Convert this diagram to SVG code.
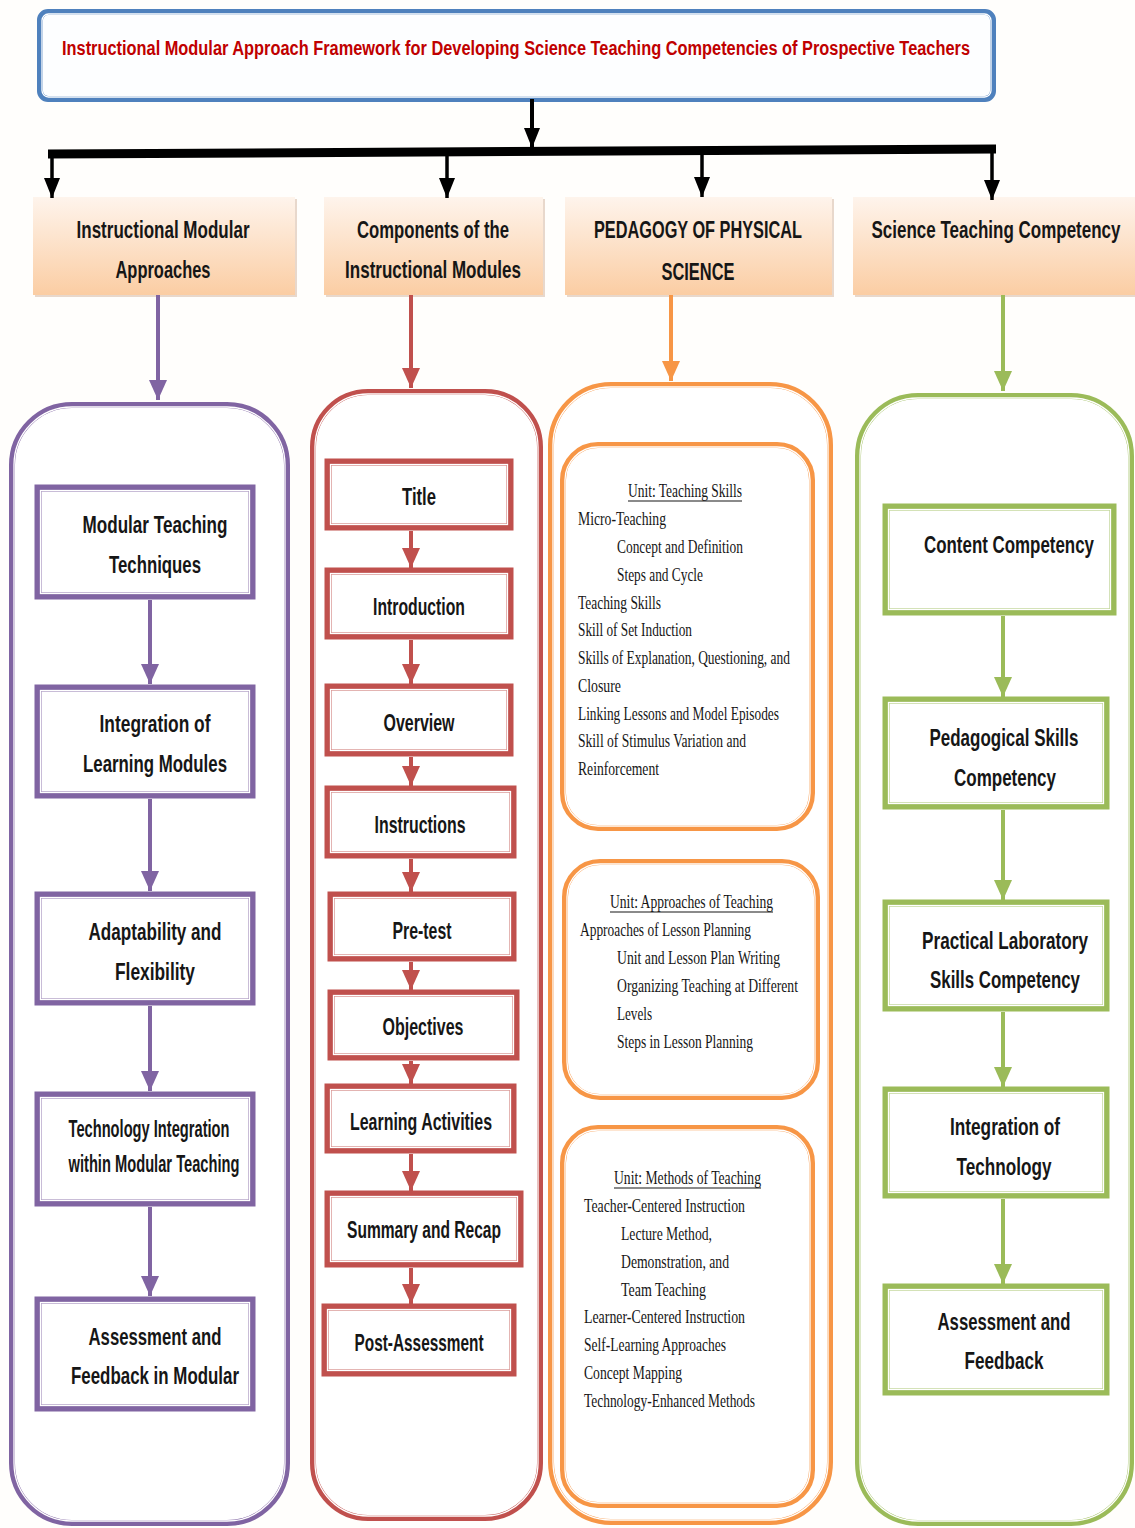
<svg xmlns="http://www.w3.org/2000/svg" width="1135" height="1528" viewBox="0 0 1135 1528">
<style>
.sb{font-family:"Liberation Sans",Arial,sans-serif;font-weight:bold;font-size:23px;fill:#161616;text-anchor:middle}
.sr{font-family:"Liberation Serif","Times New Roman",serif;font-size:18px;fill:#161616}
.in{fill:none;stroke:#fff;stroke-width:1.3}
.pb{fill:#fff;stroke:#8064a2;stroke-width:7}
.rb{fill:#fff;stroke:#c0504d;stroke-width:7}
.gb{fill:#fff;stroke:#9bbb59;stroke-width:7}
.ob{fill:#fff;stroke:#f79646;stroke-width:6}
.pc{fill:#fff;stroke:#8064a2;stroke-width:6}
.rc{fill:#fff;stroke:#c0504d;stroke-width:6}
.oc{fill:#fff;stroke:#f79646;stroke-width:6}
.gc{fill:#fff;stroke:#9bbb59;stroke-width:6}
.hd{fill:url(#peach)}
.ul{stroke:#161616;stroke-width:1.2}
</style>
<defs>
<linearGradient id="peach" x1="0" y1="0" x2="0" y2="1">
<stop offset="0" stop-color="#fef4ec"/>
<stop offset="1" stop-color="#fbcda3"/>
</linearGradient>
<marker id="mk" markerUnits="userSpaceOnUse" markerWidth="22" markerHeight="16" refX="20" refY="8" orient="auto"><path d="M0,0 L20,8 L0,16 z" fill="#000"/></marker>
<marker id="mp" markerUnits="userSpaceOnUse" markerWidth="22" markerHeight="18" refX="20" refY="9" orient="auto"><path d="M0,0 L20,9 L0,18 z" fill="#8064a2"/></marker>
<marker id="mr" markerUnits="userSpaceOnUse" markerWidth="22" markerHeight="18" refX="20" refY="9" orient="auto"><path d="M0,0 L20,9 L0,18 z" fill="#c0504d"/></marker>
<marker id="mo" markerUnits="userSpaceOnUse" markerWidth="22" markerHeight="18" refX="20" refY="9" orient="auto"><path d="M0,0 L20,9 L0,18 z" fill="#f79646"/></marker>
<marker id="mg" markerUnits="userSpaceOnUse" markerWidth="22" markerHeight="18" refX="20" refY="9" orient="auto"><path d="M0,0 L20,9 L0,18 z" fill="#9bbb59"/></marker>
</defs>
<rect x="0" y="0" width="1135" height="1528" fill="#fffefc"/>

<g id="title">
<rect x="40" y="12" width="953" height="87" rx="8" fill="#fdfeff" stroke="#4f81bd" stroke-width="6"/>
<rect x="42" y="14" width="949" height="83" rx="6.5" class="in"/>
<text transform="translate(516,55) scale(0.8,1)" x="0" y="0" font-family="Liberation Sans, Arial, sans-serif" font-weight="bold" font-size="21" fill="#c00000" text-anchor="middle" textLength="1135" lengthAdjust="spacingAndGlyphs">Instructional Modular Approach Framework for Developing Science Teaching Competencies of Prospective Teachers</text>
</g>

<g id="headers">
<g id="h1"><rect x="35" y="199" width="262" height="98" fill="#e8d8cc"/><rect class="hd" x="33" y="197" width="262" height="98"/>
<text class="sb" transform="translate(163,238) scale(0.78,1)" textLength="221.8" lengthAdjust="spacingAndGlyphs">Instructional Modular</text>
<text class="sb" transform="translate(163,278) scale(0.78,1)" textLength="121.8" lengthAdjust="spacingAndGlyphs">Approaches</text></g>
<g id="h2"><rect x="326" y="199" width="219" height="98" fill="#e8d8cc"/><rect class="hd" x="324" y="197" width="219" height="98"/>
<text class="sb" transform="translate(433,238) scale(0.78,1)" textLength="194.9" lengthAdjust="spacingAndGlyphs">Components of the</text>
<text class="sb" transform="translate(433,278) scale(0.78,1)" textLength="225.6" lengthAdjust="spacingAndGlyphs">Instructional Modules</text></g>
<g id="h3"><rect x="567" y="199" width="267" height="98" fill="#e8d8cc"/><rect class="hd" x="565" y="197" width="267" height="98"/>
<text class="sb" transform="translate(698,238) scale(0.78,1)" textLength="266.7" lengthAdjust="spacingAndGlyphs">PEDAGOGY OF PHYSICAL</text>
<text class="sb" transform="translate(698,280) scale(0.78,1)" textLength="93.6" lengthAdjust="spacingAndGlyphs">SCIENCE</text></g>
<g id="h4"><rect x="855" y="199" width="282" height="98" fill="#e8d8cc"/><rect class="hd" x="853" y="197" width="282" height="98"/>
<text class="sb" transform="translate(996,238) scale(0.78,1)" textLength="319.2" lengthAdjust="spacingAndGlyphs">Science Teaching Competency</text></g>
</g>

<g id="containers">
<g id="cp"><rect class="pc" x="12" y="405" width="275" height="1118" rx="60"/><rect class="in" x="14" y="407" width="271" height="1114" rx="58"/></g>
<g id="cr"><rect class="rc" x="313" y="392" width="227" height="1126" rx="55"/><rect class="in" x="315" y="394" width="223" height="1122" rx="53"/></g>
<g id="co"><rect class="oc" x="551" y="385" width="279" height="1137" rx="60"/><rect class="in" x="553" y="387" width="275" height="1133" rx="58"/></g>
<g id="cg"><rect class="gc" x="858" y="396" width="273" height="1127" rx="60"/><rect class="in" x="860" y="398" width="269" height="1123" rx="58"/></g>
</g>

<g id="connectors" fill="none">
<line x1="532" y1="99" x2="532" y2="148" stroke="#000" stroke-width="4" marker-end="url(#mk)"/>
<line x1="48" y1="154" x2="996" y2="149" stroke="#000" stroke-width="9"/>
<line x1="52" y1="154" x2="52" y2="198" stroke="#000" stroke-width="3.5" marker-end="url(#mk)"/>
<line x1="447" y1="152" x2="447" y2="198" stroke="#000" stroke-width="3.5" marker-end="url(#mk)"/>
<line x1="702" y1="151" x2="702" y2="197" stroke="#000" stroke-width="3.5" marker-end="url(#mk)"/>
<line x1="992" y1="149" x2="992" y2="200" stroke="#000" stroke-width="3.5" marker-end="url(#mk)"/>
<line x1="158" y1="295" x2="158" y2="400" stroke="#8064a2" stroke-width="4" marker-end="url(#mp)"/>
<line x1="411" y1="295" x2="411" y2="388" stroke="#c0504d" stroke-width="4" marker-end="url(#mr)"/>
<line x1="671" y1="295" x2="671" y2="381" stroke="#f79646" stroke-width="4" marker-end="url(#mo)"/>
<line x1="1003" y1="295" x2="1003" y2="391" stroke="#9bbb59" stroke-width="4" marker-end="url(#mg)"/>
<g stroke="#8064a2" stroke-width="4">
<line x1="150" y1="600" x2="150" y2="684" marker-end="url(#mp)"/>
<line x1="150" y1="799" x2="150" y2="891" marker-end="url(#mp)"/>
<line x1="150" y1="1006" x2="150" y2="1091" marker-end="url(#mp)"/>
<line x1="150" y1="1207" x2="150" y2="1296" marker-end="url(#mp)"/>
</g>
<g stroke="#c0504d" stroke-width="4">
<line x1="411" y1="531" x2="411" y2="568" marker-end="url(#mr)"/>
<line x1="411" y1="640" x2="411" y2="684" marker-end="url(#mr)"/>
<line x1="411" y1="757" x2="411" y2="786" marker-end="url(#mr)"/>
<line x1="411" y1="859" x2="411" y2="892" marker-end="url(#mr)"/>
<line x1="411" y1="962" x2="411" y2="990" marker-end="url(#mr)"/>
<line x1="411" y1="1061" x2="411" y2="1084" marker-end="url(#mr)"/>
<line x1="411" y1="1154" x2="411" y2="1191" marker-end="url(#mr)"/>
<line x1="411" y1="1268" x2="411" y2="1304" marker-end="url(#mr)"/>
</g>
<g stroke="#9bbb59" stroke-width="4">
<line x1="1003" y1="616" x2="1003" y2="697" marker-end="url(#mg)"/>
<line x1="1003" y1="810" x2="1003" y2="900" marker-end="url(#mg)"/>
<line x1="1003" y1="1012" x2="1003" y2="1087" marker-end="url(#mg)"/>
<line x1="1003" y1="1199" x2="1003" y2="1284" marker-end="url(#mg)"/>
</g>
</g>

<g id="p1"><rect class="pb" x="38" y="488" width="214" height="108"/><rect class="in" x="40.5" y="490.5" width="209" height="103"/>
<text class="sb" transform="translate(155,533) scale(0.78,1)" textLength="185.9" lengthAdjust="spacingAndGlyphs">Modular Teaching</text>
<text class="sb" transform="translate(155,573) scale(0.78,1)" textLength="117.9" lengthAdjust="spacingAndGlyphs">Techniques</text></g>
<g id="p2"><rect class="pb" x="38" y="688" width="214" height="107"/><rect class="in" x="40.5" y="690.5" width="209" height="102"/>
<text class="sb" transform="translate(155,732) scale(0.78,1)" textLength="142.3" lengthAdjust="spacingAndGlyphs">Integration of</text>
<text class="sb" transform="translate(155,772) scale(0.78,1)" textLength="184.6" lengthAdjust="spacingAndGlyphs">Learning Modules</text></g>
<g id="p3"><rect class="pb" x="38" y="895" width="214" height="107"/><rect class="in" x="40.5" y="897.5" width="209" height="102"/>
<text class="sb" transform="translate(155,940) scale(0.78,1)" textLength="170.5" lengthAdjust="spacingAndGlyphs">Adaptability and</text>
<text class="sb" transform="translate(155,980) scale(0.78,1)" textLength="102.6" lengthAdjust="spacingAndGlyphs">Flexibility</text></g>
<g id="p4"><rect class="pb" x="38" y="1095" width="214" height="108"/><rect class="in" x="40.5" y="1097.5" width="209" height="103"/>
<text class="sb" transform="translate(149,1137) scale(0.78,1)" font-size="20" textLength="206.4" lengthAdjust="spacingAndGlyphs">Technology Integration</text>
<text class="sb" transform="translate(154,1172) scale(0.78,1)" font-size="20" textLength="219.2" lengthAdjust="spacingAndGlyphs">within Modular Teaching</text></g>
<g id="p5"><rect class="pb" x="38" y="1300" width="214" height="108"/><rect class="in" x="40.5" y="1302.5" width="209" height="103"/>
<text class="sb" transform="translate(155,1345) scale(0.78,1)" textLength="170.5" lengthAdjust="spacingAndGlyphs">Assessment and</text>
<text class="sb" transform="translate(155,1384) scale(0.78,1)" textLength="215.4" lengthAdjust="spacingAndGlyphs">Feedback in Modular</text></g>

<g id="r1"><rect class="rb" x="328" y="462" width="182" height="65"/><rect class="in" x="330.5" y="464.5" width="177" height="60"/>
<text class="sb" transform="translate(419,505) scale(0.78,1)" textLength="43.6" lengthAdjust="spacingAndGlyphs">Title</text></g>
<g id="r2"><rect class="rb" x="328" y="571" width="182" height="65"/><rect class="in" x="330.5" y="573.5" width="177" height="60"/>
<text class="sb" transform="translate(419,615) scale(0.78,1)" textLength="117.9" lengthAdjust="spacingAndGlyphs">Introduction</text></g>
<g id="r3"><rect class="rb" x="328" y="687" width="182" height="66"/><rect class="in" x="330.5" y="689.5" width="177" height="61"/>
<text class="sb" transform="translate(419,731) scale(0.78,1)" textLength="91" lengthAdjust="spacingAndGlyphs">Overview</text></g>
<g id="r4"><rect class="rb" x="328" y="789" width="185" height="66"/><rect class="in" x="330.5" y="791.5" width="180" height="61"/>
<text class="sb" transform="translate(420,833) scale(0.78,1)" textLength="116.7" lengthAdjust="spacingAndGlyphs">Instructions</text></g>
<g id="r5"><rect class="rb" x="331" y="895" width="182" height="63"/><rect class="in" x="333.5" y="897.5" width="177" height="58"/>
<text class="sb" transform="translate(422,939) scale(0.78,1)" textLength="75.6" lengthAdjust="spacingAndGlyphs">Pre-test</text></g>
<g id="r6"><rect class="rb" x="331" y="993" width="185" height="64"/><rect class="in" x="333.5" y="995.5" width="180" height="59"/>
<text class="sb" transform="translate(423,1035) scale(0.78,1)" textLength="103.8" lengthAdjust="spacingAndGlyphs">Objectives</text></g>
<g id="r7"><rect class="rb" x="328" y="1087" width="185" height="63"/><rect class="in" x="330.5" y="1089.5" width="180" height="58"/>
<text class="sb" transform="translate(421,1130) scale(0.78,1)" textLength="182.1" lengthAdjust="spacingAndGlyphs">Learning Activities</text></g>
<g id="r8"><rect class="rb" x="328" y="1194" width="192" height="70"/><rect class="in" x="330.5" y="1196.5" width="187" height="65"/>
<text class="sb" transform="translate(424,1238) scale(0.78,1)" textLength="197.4" lengthAdjust="spacingAndGlyphs">Summary and Recap</text></g>
<g id="r9"><rect class="rb" x="325" y="1307" width="188" height="66"/><rect class="in" x="327.5" y="1309.5" width="183" height="61"/>
<text class="sb" transform="translate(419,1351) scale(0.78,1)" textLength="165.4" lengthAdjust="spacingAndGlyphs">Post-Assessment</text></g>

<g id="o1"><rect class="ob" x="563" y="445" width="249" height="383" rx="35"/><rect class="in" x="565" y="447" width="245" height="379" rx="33"/>
<text class="sr" transform="translate(628,497) scale(0.77,1)" textLength="148" lengthAdjust="spacingAndGlyphs">Unit: Teaching Skills</text>
<line class="ul" x1="628" y1="501" x2="742" y2="501"/>
<text class="sr" transform="translate(578,525) scale(0.77,1)" textLength="114.3" lengthAdjust="spacingAndGlyphs">Micro-Teaching</text>
<text class="sr" transform="translate(617,553) scale(0.77,1)" textLength="163.6" lengthAdjust="spacingAndGlyphs">Concept and Definition</text>
<text class="sr" transform="translate(617,581) scale(0.77,1)" textLength="111.7" lengthAdjust="spacingAndGlyphs">Steps and Cycle</text>
<text class="sr" transform="translate(578,609) scale(0.77,1)" textLength="107.8" lengthAdjust="spacingAndGlyphs">Teaching Skills</text>
<text class="sr" transform="translate(578,636) scale(0.77,1)" textLength="148" lengthAdjust="spacingAndGlyphs">Skill of Set Induction</text>
<text class="sr" transform="translate(578,664) scale(0.77,1)" textLength="275.3" lengthAdjust="spacingAndGlyphs">Skills of Explanation, Questioning, and</text>
<text class="sr" transform="translate(578,692) scale(0.77,1)" textLength="55.8" lengthAdjust="spacingAndGlyphs">Closure</text>
<text class="sr" transform="translate(578,720) scale(0.77,1)" textLength="261" lengthAdjust="spacingAndGlyphs">Linking Lessons and Model Episodes</text>
<text class="sr" transform="translate(578,747) scale(0.77,1)" textLength="218.2" lengthAdjust="spacingAndGlyphs">Skill of Stimulus Variation and</text>
<text class="sr" transform="translate(578,775) scale(0.77,1)" textLength="105.2" lengthAdjust="spacingAndGlyphs">Reinforcement</text></g>

<g id="o2"><rect class="ob" x="565" y="862" width="252" height="235" rx="35"/><rect class="in" x="567" y="864" width="248" height="231" rx="33"/>
<text class="sr" transform="translate(610,908) scale(0.77,1)" textLength="211.7" lengthAdjust="spacingAndGlyphs">Unit: Approaches of Teaching</text>
<line class="ul" x1="610" y1="912" x2="773" y2="912"/>
<text class="sr" transform="translate(580,936) scale(0.77,1)" textLength="222.1" lengthAdjust="spacingAndGlyphs">Approaches of Lesson Planning</text>
<text class="sr" transform="translate(617,964) scale(0.77,1)" textLength="211.7" lengthAdjust="spacingAndGlyphs">Unit and Lesson Plan Writing</text>
<text class="sr" transform="translate(617,992) scale(0.77,1)" textLength="235.1" lengthAdjust="spacingAndGlyphs">Organizing Teaching at Different</text>
<text class="sr" transform="translate(617,1020) scale(0.77,1)" textLength="45.5" lengthAdjust="spacingAndGlyphs">Levels</text>
<text class="sr" transform="translate(617,1048) scale(0.77,1)" textLength="176.6" lengthAdjust="spacingAndGlyphs">Steps in Lesson Planning</text></g>

<g id="o3"><rect class="ob" x="563" y="1128" width="249" height="377" rx="35"/><rect class="in" x="565" y="1130" width="245" height="373" rx="33"/>
<text class="sr" transform="translate(614,1184) scale(0.77,1)" textLength="190.9" lengthAdjust="spacingAndGlyphs">Unit: Methods of Teaching</text>
<line class="ul" x1="614" y1="1188" x2="761" y2="1188"/>
<text class="sr" transform="translate(584,1212) scale(0.77,1)" textLength="209.1" lengthAdjust="spacingAndGlyphs">Teacher-Centered Instruction</text>
<text class="sr" transform="translate(621,1240) scale(0.77,1)" textLength="118.2" lengthAdjust="spacingAndGlyphs">Lecture Method,</text>
<text class="sr" transform="translate(621,1268) scale(0.77,1)" textLength="140.3" lengthAdjust="spacingAndGlyphs">Demonstration, and</text>
<text class="sr" transform="translate(621,1296) scale(0.77,1)" textLength="110.4" lengthAdjust="spacingAndGlyphs">Team Teaching</text>
<text class="sr" transform="translate(584,1323) scale(0.77,1)" textLength="209.1" lengthAdjust="spacingAndGlyphs">Learner-Centered Instruction</text>
<text class="sr" transform="translate(584,1351) scale(0.77,1)" textLength="184.4" lengthAdjust="spacingAndGlyphs">Self-Learning Approaches</text>
<text class="sr" transform="translate(584,1379) scale(0.77,1)" textLength="127.3" lengthAdjust="spacingAndGlyphs">Concept Mapping</text>
<text class="sr" transform="translate(584,1407) scale(0.77,1)" textLength="222.1" lengthAdjust="spacingAndGlyphs">Technology-Enhanced Methods</text></g>

<g id="g1"><rect class="gb" x="886" y="507" width="227" height="105"/><rect class="in" x="888.5" y="509.5" width="222" height="100"/>
<text class="sb" transform="translate(1009,553) scale(0.78,1)" textLength="217.9" lengthAdjust="spacingAndGlyphs">Content Competency</text></g>
<g id="g2"><rect class="gb" x="886" y="700" width="220" height="106"/><rect class="in" x="888.5" y="702.5" width="215" height="101"/>
<text class="sb" transform="translate(1004,746) scale(0.78,1)" textLength="191" lengthAdjust="spacingAndGlyphs">Pedagogical Skills</text>
<text class="sb" transform="translate(1005,786) scale(0.78,1)" textLength="130.8" lengthAdjust="spacingAndGlyphs">Competency</text></g>
<g id="g3"><rect class="gb" x="886" y="903" width="220" height="105"/><rect class="in" x="888.5" y="905.5" width="215" height="100"/>
<text class="sb" transform="translate(1005,949) scale(0.78,1)" textLength="212.8" lengthAdjust="spacingAndGlyphs">Practical Laboratory</text>
<text class="sb" transform="translate(1005,988) scale(0.78,1)" textLength="192.3" lengthAdjust="spacingAndGlyphs">Skills Competency</text></g>
<g id="g4"><rect class="gb" x="886" y="1090" width="220" height="105"/><rect class="in" x="888.5" y="1092.5" width="215" height="100"/>
<text class="sb" transform="translate(1005,1135) scale(0.78,1)" textLength="141" lengthAdjust="spacingAndGlyphs">Integration of</text>
<text class="sb" transform="translate(1004,1175) scale(0.78,1)" textLength="121.8" lengthAdjust="spacingAndGlyphs">Technology</text></g>
<g id="g5"><rect class="gb" x="886" y="1287" width="220" height="105"/><rect class="in" x="888.5" y="1289.5" width="215" height="100"/>
<text class="sb" transform="translate(1004,1330) scale(0.78,1)" textLength="170.5" lengthAdjust="spacingAndGlyphs">Assessment and</text>
<text class="sb" transform="translate(1004,1369) scale(0.78,1)" textLength="101.3" lengthAdjust="spacingAndGlyphs">Feedback</text></g>
</svg>
